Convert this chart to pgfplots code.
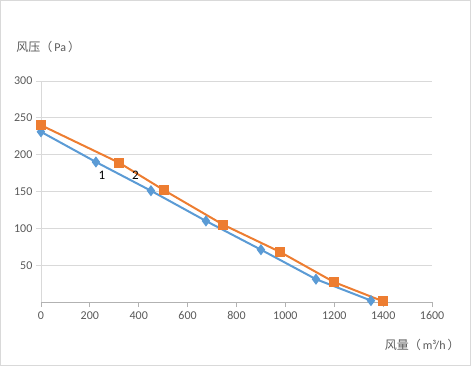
\documentclass[border=0pt]{standalone}
\usepackage{pgfplots}
\pgfplotsset{compat=1.18}
\usepackage{fontspec}
\setmainfont{Carlito}
\newfontfamily\cjk{Noto Sans CJK SC}
\definecolor{cblue}{HTML}{5B9BD5}
\definecolor{corange}{HTML}{ED7D31}
\definecolor{tickgray}{HTML}{595959}
\definecolor{gridgray}{HTML}{D9D9D9}
\begin{document}
\begin{tikzpicture}[x=1pt,y=1pt]
\draw[color=gridgray,line width=0.8pt] (0.5,0.5) rectangle (470.5,365.5);
\begin{axis}[
  at={(41pt,64pt)}, anchor=south west,
  scale only axis, width=391pt, height=221pt,
  xmin=0, xmax=1600, ymin=0, ymax=300,
  xtick={0,200,...,1600}, ytick={50,100,...,300},
  axis x line*=bottom, axis y line*=left,
  x axis line style={color=gray!60, line width=0.8pt},
  y axis line style={color=gridgray, line width=0.8pt},
  tick align=outside, major tick length=5pt,
  xtick style={color=gray!60, line width=0.8pt},
  ytick style={color=gridgray, line width=0.8pt},
  ymajorgrids, major grid style={color=gridgray, line width=0.8pt},
  tick label style={font=\fontsize{12}{14}\selectfont, color=tickgray},
  /pgf/number format/assume math mode=true,
  scaled ticks=false,
  /pgf/number format/1000 sep={},
  xticklabel style={yshift=-1pt},
  clip=false,
]
\addplot[color=cblue, line width=2pt, mark=diamond*, mark size=4pt, mark options={fill=cblue}] coordinates {
(0,231) (225,190) (450,151) (675,110) (900,71) (1125,31) (1350,2)};
\addplot[color=corange, line width=2pt, mark=square*, mark size=4pt, mark options={fill=corange}] coordinates {
(0,240) (320,189) (502,152) (745,105) (978,68) (1199,27) (1399,1)};
\node[font=\fontsize{13}{15}\selectfont] at (axis cs:250,172) {1};
\node[font=\fontsize{13}{15}\selectfont] at (axis cs:387,172) {2};
\end{axis}
\node[anchor=west, color=tickgray, font=\fontsize{12}{14}\selectfont] at (13,319) {{\cjk 风压（}\,Pa\,{\cjk ）}};
\node[anchor=east, color=tickgray, font=\fontsize{12}{14}\selectfont] at (463,21) {{\cjk 风量（}\,m³/h\,{\cjk ）}};
\end{tikzpicture}
\end{document}
